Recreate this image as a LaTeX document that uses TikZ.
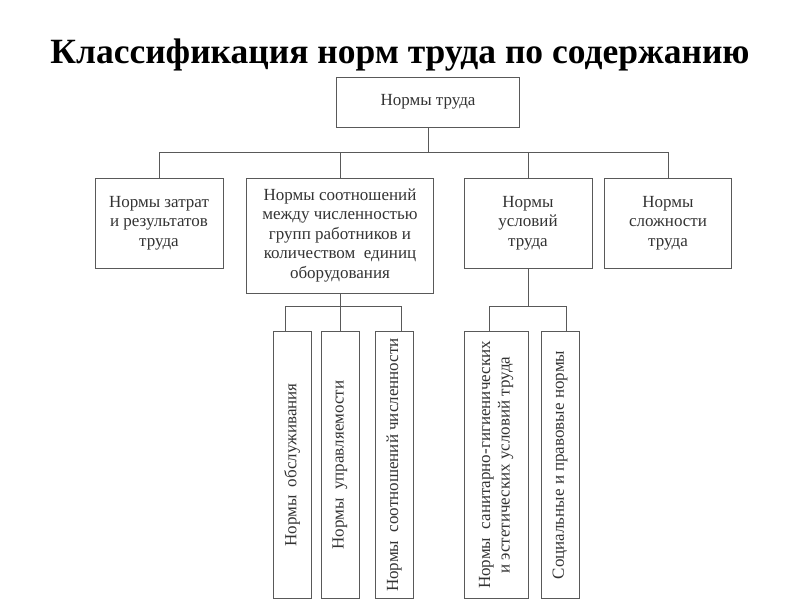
\documentclass[tikz,border=0pt]{standalone}
\usepackage{fontspec}
\setmainfont{Liberation Serif}
\usepackage{graphicx}

\begin{document}
\begin{tikzpicture}[
  x=1pt, y=-1pt,
  every node/.style={font=\fontsize{17}{19.5}\selectfont, text=black!80},
  normbox/.style={draw=black!65, line width=0.8pt, align=center, inner sep=2pt},
  vnorm/.style={draw=black!65, line width=0.8pt, inner sep=0pt,
    minimum width=38pt, minimum height=267pt},
  link/.style={draw=black!65, line width=0.8pt},
  heading/.style={font=\fontsize{35.5}{40}\selectfont\bfseries, text=black}
]
\useasboundingbox (0,0) rectangle (800,600);

% ---- title ----
\node[heading] (title) at (400,55) {Классификация норм труда по содержанию};

% ---- top level ----
\node[normbox, minimum width=183pt, minimum height=50pt] (top) at (428,102) {Нормы труда};

% ---- second level ----
\node[normbox, minimum width=128pt, minimum height=90pt] (costs) at (159,223)
  {Нормы затрат\\и результатов\\труда};
\node[normbox, minimum width=187pt, minimum height=115pt] (ratio) at (340,235.5)
  {Нормы соотношений\\между численностью\\групп работников и\\количеством~ единиц\\оборудования};
\node[normbox, minimum width=128pt, minimum height=90pt] (cond) at (528,223)
  {Нормы\\условий\\труда};
\node[normbox, minimum width=127pt, minimum height=90pt] (compl) at (668,223)
  {Нормы\\сложности\\труда};

% ---- third level (vertical boxes) ----
\node[vnorm] (serv) at (292,465) {\rotatebox{90}{Нормы~ обслуживания}};
\node[vnorm] (ctrl) at (340,465) {\rotatebox{90}{Нормы~ управляемости}};
\node[vnorm] (staff) at (394,465) {\rotatebox{90}{Нормы~ соотношений численности}};
\node[vnorm, minimum width=64pt] (sanit) at (496,465)
  {\rotatebox{90}{\begin{tabular}{@{}c@{}}Нормы~ санитарно-гигиенических\\и эстетических условий труда\end{tabular}}};
\node[vnorm] (social) at (560,465) {\rotatebox{90}{Социальные и правовые нормы}};

% ---- connectors ----
\coordinate (bus1) at (428,152);
\coordinate (bus2) at (340,306);
\coordinate (bus3) at (528,306);
\coordinate (tserv) at ([xshift=-7pt]serv.north);
\coordinate (tstaff) at ([xshift=7pt]staff.north);
\coordinate (tsanit) at ([xshift=-7pt]sanit.north);
\coordinate (tsocial) at ([xshift=6pt]social.north);

\draw[link] (top.south) -- (top.south |- bus1);
\draw[link] (costs.north) |- (compl.north |- bus1) -- (compl.north);
\draw[link] (ratio.north) -- (ratio.north |- bus1);
\draw[link] (cond.north) -- (cond.north |- bus1);

\draw[link] (ratio.south) -- (ctrl.north);
\draw[link] (tserv) |- (tstaff |- bus2) -- (tstaff);

\draw[link] (cond.south) -- (cond.south |- bus3);
\draw[link] (tsanit) |- (tsocial |- bus3) -- (tsocial);

\end{tikzpicture}
\end{document}
